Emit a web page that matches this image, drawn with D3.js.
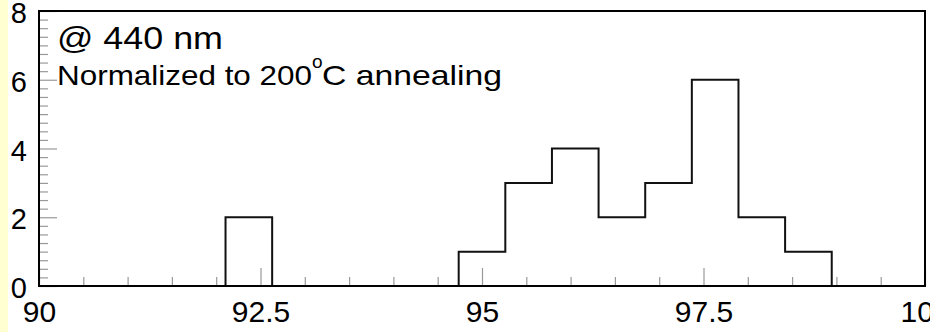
<!DOCTYPE html>
<html>
<head>
<meta charset="utf-8">
<script src="https://cdn.jsdelivr.net/npm/d3@7"></script>
<style>
  body { margin: 0; background: #fff; }
  svg { display: block; font-family: "Liberation Sans", Arial, sans-serif; }
</style>
</head>
<body>
<script>
// histogram settings and bin contents
var nBins = 19, xMin = 90, xMax = 100;
var counts = [0, 0, 0, 0, 2, 0, 0, 0, 0, 1, 3, 4, 2, 3, 6, 2, 1, 0, 0];

var xMajor = [90, 92.5, 95, 97.5, 100];
var xMajorLabels = ["90", "92.5", "95", "97.5", "100"];
var yMajor = [0, 2, 4, 6, 8];

// set the dimensions
var W = 930, H = 332;
var plot = {left: 39, right: 925, top: 11, bottom: 286};

var x = d3.scaleLinear().domain([xMin, xMax]).range([plot.left, plot.right]);
var y = d3.scaleLinear().domain([0, 8]).range([plot.bottom, plot.top]);

var svg = d3.select("body").append("svg")
    .attr("width", W)
    .attr("height", H);

// pale yellow strip on the left
svg.append("rect")
    .attr("x", 0).attr("y", 0)
    .attr("width", 8).attr("height", H)
    .attr("fill", "#ffffd2");

// minor ticks
var xMinor = d3.range(xMin, xMax + 0.001, 0.5).filter(function(v) { return xMajor.indexOf(v) < 0; });
var yMinor = d3.range(0, 8.001, 0.25).filter(function(v) { return v % 2 !== 0; });

svg.append("g")
    .attr("transform", "translate(0," + plot.bottom + ")")
    .call(d3.axisBottom(x).tickValues(xMinor).tickSize(-9).tickFormat(""))
    .call(function(g) { g.select(".domain").remove(); });

svg.append("g")
    .attr("transform", "translate(" + plot.left + ",0)")
    .call(d3.axisLeft(y).tickValues(yMinor).tickSize(-9).tickFormat(""))
    .call(function(g) { g.select(".domain").remove(); });

// major ticks with labels
var xAxis = svg.append("g")
    .attr("transform", "translate(0," + plot.bottom + ")")
    .call(d3.axisBottom(x).tickValues(xMajor).tickSize(-18).tickPadding(15)
      .tickFormat(function(d, i) { return xMajorLabels[i]; }));
xAxis.select(".domain").remove();

var yAxis = svg.append("g")
    .attr("transform", "translate(" + plot.left + ",0)")
    .call(d3.axisLeft(y).tickValues(yMajor).tickSize(-18).tickPadding(12).tickFormat(d3.format("d")));
yAxis.select(".domain").remove();

svg.selectAll(".tick line").attr("stroke", "#999").attr("stroke-width", 1.2);
svg.selectAll(".tick text")
    .attr("fill", "#000")
    .style("font-size", "30px")
    .style("font-family", "'Liberation Sans', Arial, sans-serif");
yAxis.selectAll(".tick text")
    .style("font-size", "29px")
    .attr("dy", "11.5");

// histogram outline
var binW = (xMax - xMin) / nBins;
var pts = [[xMin, 0]];
counts.forEach(function(c, i) {
  pts.push([xMin + i * binW, c]);
  pts.push([xMin + (i + 1) * binW, c]);
});
pts.push([xMax, 0]);

svg.append("path")
    .attr("d", d3.line().x(function(d) { return x(d[0]); }).y(function(d) { return y(d[1]); })(pts))
    .attr("fill", "none")
    .attr("stroke", "#111")
    .attr("stroke-width", 2)
    .attr("stroke-linejoin", "miter");

// frame
svg.append("rect")
    .attr("x", plot.left).attr("y", plot.top)
    .attr("width", plot.right - plot.left)
    .attr("height", plot.bottom - plot.top)
    .attr("fill", "none")
    .attr("stroke", "#000")
    .attr("stroke-width", 2);

// labels in the pad
svg.append("text")
    .attr("x", 57).attr("y", 49)
    .attr("textLength", 166).attr("lengthAdjust", "spacingAndGlyphs")
    .style("font-size", "31px")
    .text("@ 440 nm");

svg.append("text")
    .attr("x", 57).attr("y", 85)
    .attr("textLength", 255).attr("lengthAdjust", "spacingAndGlyphs")
    .style("font-size", "28px")
    .text("Normalized to 200");
svg.append("text")
    .attr("x", 312).attr("y", 68)
    .style("font-size", "19px")
    .text("o");
svg.append("text")
    .attr("x", 322).attr("y", 85)
    .attr("textLength", 180).attr("lengthAdjust", "spacingAndGlyphs")
    .style("font-size", "28px")
    .text("C annealing");
</script>
</body>
</html>
